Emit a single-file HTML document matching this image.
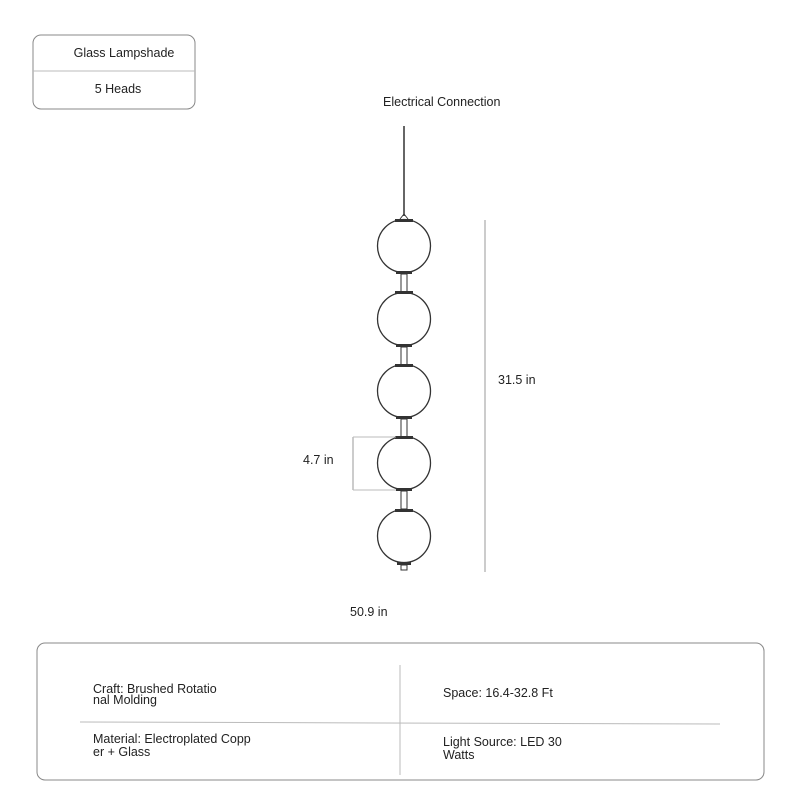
<!DOCTYPE html>
<html><head><style>
body{margin:0;width:800px;height:800px;background:#fff;overflow:hidden}
svg text{font-family:"Liberation Sans","DejaVu Sans",sans-serif;fill:#222}
</style></head><body>
<svg width="800" height="800" viewBox="0 0 800 800" xmlns="http://www.w3.org/2000/svg">
<rect x="33" y="35" width="162" height="74" rx="8" fill="none" stroke="#888" stroke-width="1"/>
<line x1="33" y1="71" x2="195" y2="71" stroke="#bbb"/>
<text x="124" y="57" font-size="12.5" text-anchor="middle">Glass Lampshade</text>
<text x="118" y="93" font-size="12.5" text-anchor="middle">5 Heads</text>
<text x="383" y="106" font-size="12.5">Electrical Connection</text>
<line x1="404" y1="126" x2="404" y2="216" stroke="#333" stroke-width="1.5"/>
<path d="M400 219 L404 214 L408 219" fill="none" stroke="#333"/>
<g fill="#fff" stroke="#333" stroke-width="1.3">
<circle cx="404" cy="246" r="26.5"/>
<circle cx="404" cy="319" r="26.5"/>
<circle cx="404" cy="391" r="26.5"/>
<circle cx="404" cy="463" r="26.5"/>
<circle cx="404" cy="536" r="26.5"/>
</g>
<g fill="#333">
<rect x="395" y="219" width="18" height="3"/>
<rect x="396" y="271" width="16" height="3"/><rect x="401" y="274" width="6" height="18" fill="#fff" stroke="#333"/><rect x="395" y="291" width="18" height="3"/>
<rect x="396" y="344" width="16" height="3"/><rect x="401" y="347" width="6" height="18" fill="#fff" stroke="#333"/><rect x="395" y="364" width="18" height="3"/>
<rect x="396" y="416" width="16" height="3"/><rect x="401" y="419" width="6" height="18" fill="#fff" stroke="#333"/><rect x="395" y="436" width="18" height="3"/>
<rect x="396" y="488" width="16" height="3"/><rect x="401" y="491" width="6" height="18" fill="#fff" stroke="#333"/><rect x="395" y="509" width="18" height="3"/>
<rect x="397" y="562" width="14" height="3"/><rect x="401" y="565" width="6" height="5" fill="#fff" stroke="#333"/>
</g>
<line x1="485" y1="220" x2="485" y2="572" stroke="#999"/>
<text x="498" y="384" font-size="12.5">31.5 in</text>
<line x1="353" y1="437" x2="353" y2="490" stroke="#999"/>
<line x1="353" y1="437" x2="396" y2="437" stroke="#bbb"/>
<line x1="353" y1="490" x2="396" y2="490" stroke="#bbb"/>
<text x="303" y="464" font-size="12.5">4.7 in</text>
<text x="350" y="616" font-size="12.5">50.9 in</text>
<rect x="37" y="643" width="727" height="137" rx="8" fill="none" stroke="#888"/>
<line x1="400" y1="665" x2="400" y2="775" stroke="#bbb"/>
<line x1="80" y1="722" x2="720" y2="724" stroke="#bbb"/>
<g font-size="12.5">
<text x="93" y="693">Craft: Brushed Rotatio</text>
<text x="93" y="704">nal Molding</text>
<text x="443" y="697">Space: 16.4-32.8 Ft</text>
<text x="93" y="743">Material: Electroplated Copp</text>
<text x="93" y="756">er + Glass</text>
<text x="443" y="746">Light Source: LED 30</text>
<text x="443" y="759">Watts</text>
</g>
</svg>
</body></html>
